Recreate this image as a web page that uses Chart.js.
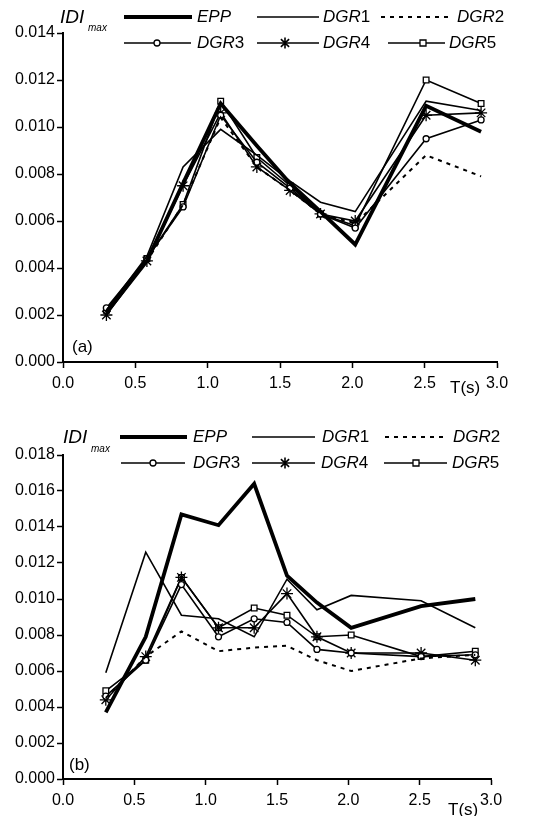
<!DOCTYPE html>
<html><head><meta charset="utf-8">
<script src="https://cdn.jsdelivr.net/npm/chart.js@4.4.0/dist/chart.umd.min.js"></script>
<style>
html,body{margin:0;padding:0;background:#fff;}
#wrap{position:relative;width:557px;height:816px;overflow:hidden;background:#fff;}
canvas{position:absolute;left:0;}
</style></head><body>
<div id="wrap">
<canvas id="ca" width="557" height="400" style="top:0"></canvas>
<canvas id="cb" width="557" height="416" style="top:400px"></canvas>
</div>
<script>
// ---- data ----
const seriesNames = ['EPP','DGR1','DGR2','DGR3','DGR4','DGR5'];
const periods = [0.30, 0.58, 0.83, 1.09, 1.34, 1.57, 1.78, 2.02, 2.51, 2.89];
const xTicksLabels = ['0.0','0.5','1.0','1.5','2.0','2.5','3.0'];
const yTicksA = ['0.000','0.002','0.004','0.006','0.008','0.010','0.012','0.014'];
const yTicksB = ['0.000','0.002','0.004','0.006','0.008','0.010','0.012','0.014','0.016','0.018'];

// chart (a)
const eppA  = [0.0021,0.0043,0.0076,0.0110,0.0092,0.0076,0.0064,0.0050,0.0109,0.0098];
const dgr1A = [0.0022,0.0045,0.0083,0.0099,0.0088,0.0077,0.0068,0.0064,0.0111,0.0107];
const dgr2A = [0.0022,0.0043,0.0067,0.0104,0.0083,0.0073,0.0063,0.0059,0.0088,0.0079];
const dgr3A = [0.0023,0.0044,0.0066,0.0105,0.0085,0.0074,0.0063,0.0057,0.0095,0.0103];
const dgr4A = [0.0020,0.0043,0.0075,0.0106,0.0083,0.0073,0.0063,0.0060,0.0105,0.0106];
const dgr5A = [0.0022,0.0044,0.0067,0.0111,0.0087,0.0075,0.0063,0.0058,0.0120,0.0110];

// chart (b)
const eppB  = [0.0037,0.0079,0.0147,0.0141,0.0164,0.0113,0.0098,0.0084,0.0096,0.0100];
const dgr1B = [0.0059,0.0126,0.0091,0.0089,0.0079,0.0111,0.0094,0.0102,0.0099,0.0084];
const dgr2B = [0.0045,0.0068,0.0082,0.0071,0.0073,0.0074,0.0066,0.0060,0.0067,0.0069];
const dgr3B = [0.0046,0.0066,0.0108,0.0079,0.0089,0.0087,0.0072,0.0070,0.0068,0.0069];
const dgr4B = [0.0044,0.0068,0.0112,0.0084,0.0084,0.0103,0.0079,0.0070,0.0070,0.0066];
const dgr5B = [0.0049,0.0066,0.0112,0.0084,0.0095,0.0091,0.0079,0.0080,0.0068,0.0071];

// ---- styles ----
const FONT = "'Liberation Sans', Arial, sans-serif";
const styles = [
  {borderWidth:3.8, borderDash:[], pointStyle:false, r:0},
  {borderWidth:1.6, borderDash:[], pointStyle:false, r:0},
  {borderWidth:2.0, borderDash:[4,5], pointStyle:false, r:0},
  {borderWidth:1.6, borderDash:[], pointStyle:'circle', r:3},
  {borderWidth:1.6, borderDash:[], pointStyle:'star', r:6},
  {borderWidth:1.6, borderDash:[], pointStyle:'rect', r:4}
];

function makeDatasets(arrs){
  return arrs.map((vals,i)=>{
    const s = styles[i];
    return {
      label: seriesNames[i],
      data: periods.map((p,j)=>({x:p, y:vals[j]})),
      borderColor:'#000', backgroundColor:'#000',
      borderWidth:s.borderWidth, borderDash:s.borderDash,
      pointStyle:s.pointStyle || 'circle',
      pointRadius:s.pointStyle ? s.r : 0,
      pointHoverRadius:0,
      pointBackgroundColor:'#fff', pointBorderColor:'#000', pointBorderWidth:1.3,
      tension:0, fill:false, clip:false
    };
  });
}

function drawMarker(ctx, type, x, y){
  ctx.save();
  ctx.setLineDash([]);
  ctx.lineWidth = 1.3; ctx.strokeStyle='#000'; ctx.fillStyle='#fff';
  if(type==='circle'){
    ctx.beginPath(); ctx.arc(x,y,3,0,Math.PI*2); ctx.fill(); ctx.stroke();
  } else if(type==='rect'){
    ctx.beginPath(); ctx.rect(x-3,y-3,6,6); ctx.fill(); ctx.stroke();
  } else if(type==='star'){
    const r=5.5; ctx.lineWidth=1.6;
    ctx.beginPath();
    ctx.moveTo(x,y-r); ctx.lineTo(x,y+r);
    ctx.moveTo(x-r*0.75,y-r*0.7); ctx.lineTo(x+r*0.75,y+r*0.7);
    ctx.moveTo(x+r*0.75,y-r*0.7); ctx.lineTo(x-r*0.75,y+r*0.7);
    ctx.stroke();
  }
  ctx.restore();
}

function drawLabel(ctx, name, x, y){
  const m = name.match(/^(\D+)(\d*)$/);
  ctx.font = 'italic 17px ' + FONT;
  ctx.fillText(m[1], x, y);
  const w = ctx.measureText(m[1]).width;
  if(m[2]){ ctx.font = '17px ' + FONT; ctx.fillText(m[2], x + w, y); }
}

function annotPlugin(cfg){
  return {
    id:'annot',
    afterDraw(chart){
      const ctx = chart.ctx;
      ctx.save();
      ctx.fillStyle='#000'; ctx.strokeStyle='#000';
      ctx.textBaseline='middle'; ctx.textAlign='left';
      cfg.legend.forEach((it,i)=>{
        ctx.save();
        ctx.lineWidth = styles[i].borderWidth;
        ctx.setLineDash(styles[i].borderDash);
        ctx.beginPath(); ctx.moveTo(it.x1,it.y); ctx.lineTo(it.x2,it.y); ctx.stroke();
        ctx.restore();
        if(styles[i].pointStyle) drawMarker(ctx, styles[i].pointStyle, it.mx, it.y);
        drawLabel(ctx, seriesNames[i], it.tx, it.y);
      });
      // y title
      ctx.font = 'italic 19px ' + FONT;
      ctx.fillText('IDI', cfg.idi.x, cfg.idi.y);
      ctx.font = 'italic 10px ' + FONT;
      ctx.fillText('max', cfg.idi.sx, cfg.idi.sy);
      // panel tag
      ctx.font = '17px ' + FONT;
      ctx.fillText(cfg.tag.text, cfg.tag.x, cfg.tag.y);
      // x title
      ctx.fillText('T(s)', cfg.tt.x, cfg.tt.y);
      ctx.restore();
    }
  };
}

function makeChart(id, arrs, ymax, yLabels, padTop, padRight, xH, cfg){
  return new Chart(document.getElementById(id), {
    type:'line',
    data:{datasets:makeDatasets(arrs)},
    options:{
      responsive:false, animation:false, devicePixelRatio:1,
      layout:{padding:{top:padTop, right:padRight, left:0, bottom:0}},
      plugins:{legend:{display:false}, tooltip:{enabled:false}},
      scales:{
        x:{type:'linear', min:0, max:3,
          afterFit(s){ s.height = xH; },
          afterBuildTicks(s){ s.ticks = xTicksLabels.map(v=>({value:parseFloat(v)})); },
          ticks:{callback:(v)=>xTicksLabels.find(t=>parseFloat(t)===v), color:'#000', font:{size:16, family:FONT}, padding:6, maxRotation:0, autoSkip:false},
          grid:{display:true, drawOnChartArea:false, drawTicks:true, tickLength:6, tickWidth:1.5, tickColor:'#000'},
          border:{display:true, color:'#000', width:2}
        },
        y:{type:'linear', min:0, max:ymax,
          afterFit(s){ s.width = 63; },
          afterBuildTicks(s){ s.ticks = yLabels.map(v=>({value:parseFloat(v)})); },
          ticks:{callback:(v)=>yLabels.find(t=>Math.abs(parseFloat(t)-v)<1e-9), color:'#000', font:{size:16, family:FONT}, padding:2, autoSkip:false},
          grid:{display:true, drawOnChartArea:false, drawTicks:true, tickLength:6, tickWidth:1.5, tickColor:'#000'},
          border:{display:true, color:'#000', width:2}
        }
      }
    },
    plugins:[annotPlugin(cfg)]
  });
}

makeChart('ca', [eppA,dgr1A,dgr2A,dgr3A,dgr4A,dgr5A], 0.014, yTicksA, 33, 60, 38, {
  legend:[
    {x1:124,x2:192,y:17,mx:0,tx:197},
    {x1:257,x2:319,y:17,mx:0,tx:323},
    {x1:381,x2:453,y:17,mx:0,tx:457},
    {x1:124,x2:191,y:43,mx:157,tx:197},
    {x1:257,x2:319,y:43,mx:285,tx:323},
    {x1:388,x2:445,y:43,mx:423,tx:449}
  ],
  idi:{x:60,y:18,sx:88,sy:28},
  tag:{text:'(a)',x:72,y:347},
  tt:{x:450,y:388}
});

makeChart('cb', [eppB,dgr1B,dgr2B,dgr3B,dgr4B,dgr5B], 0.018, yTicksB, 55, 66, 37, {
  legend:[
    {x1:120,x2:187,y:37,mx:0,tx:193},
    {x1:252,x2:315,y:37,mx:0,tx:322},
    {x1:385,x2:447,y:37,mx:0,tx:453},
    {x1:121,x2:185,y:63,mx:153,tx:193},
    {x1:252,x2:315,y:63,mx:285,tx:321},
    {x1:384,x2:447,y:63,mx:416,tx:452}
  ],
  idi:{x:63,y:38,sx:91,sy:49},
  tag:{text:'(b)',x:69,y:365},
  tt:{x:448,y:410}
});
</script>
</body></html>
